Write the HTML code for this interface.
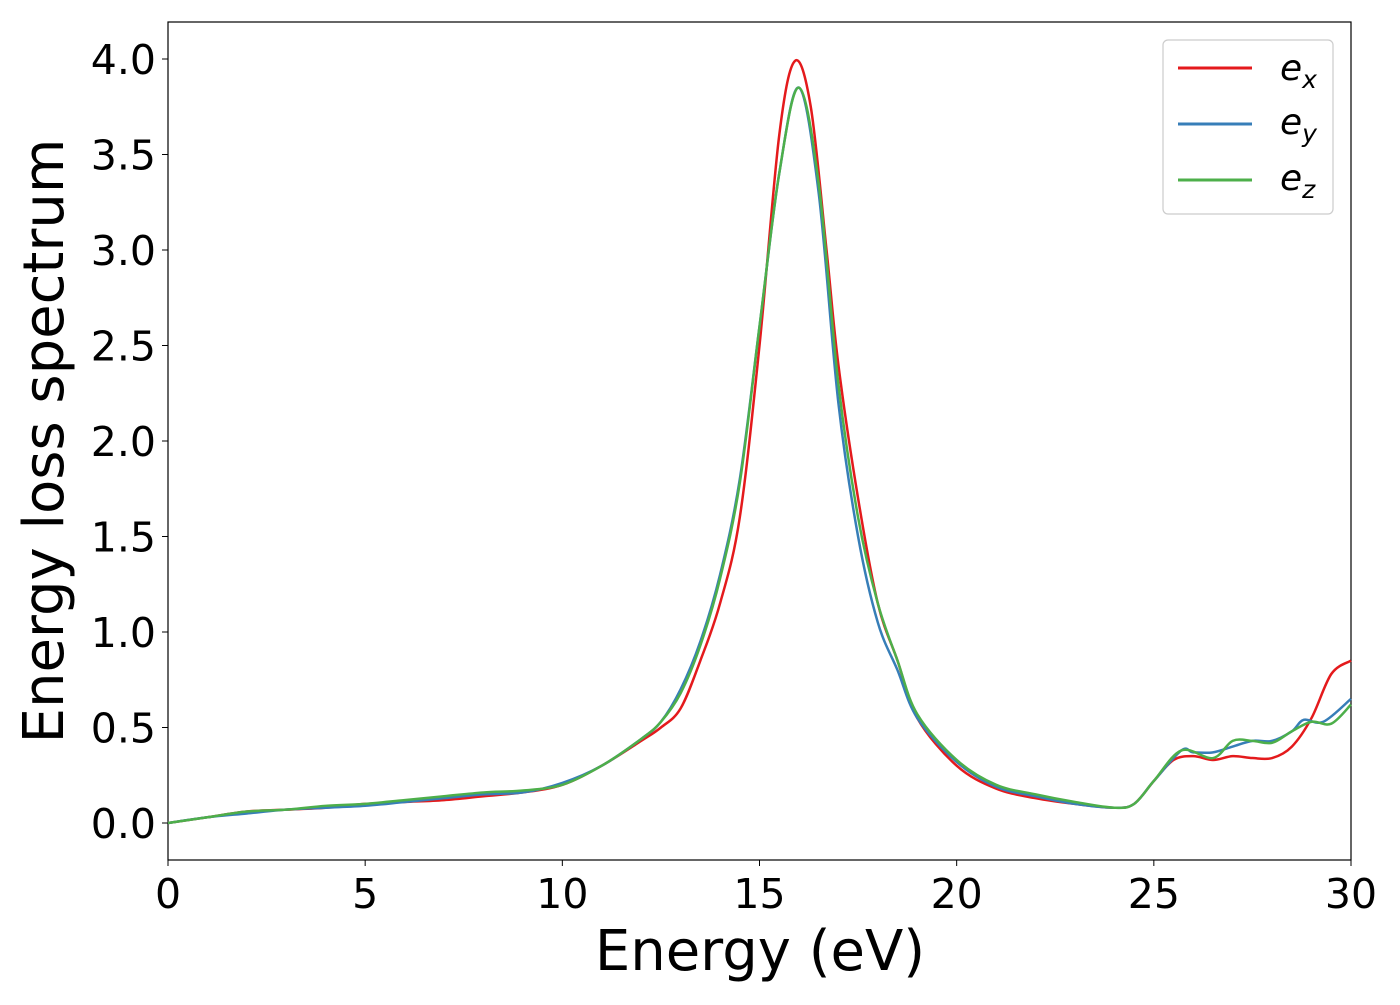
<!DOCTYPE html>
<html><head><meta charset="utf-8"><style>
body{margin:0;background:#fff;}
text{font-family:"DejaVu Sans","Liberation Sans",sans-serif;}
</style></head><body>
<svg id="chart" width="1400" height="1000">
<rect x="168" y="22" width="1183" height="838" fill="none" stroke="#000" stroke-width="1.2"/>
<g id="ticks"></g>
<g id="series"></g>
<text x="760" y="970" font-size="56" text-anchor="middle">Energy (eV)</text>
<text transform="translate(63,441) rotate(-90)" font-size="56" text-anchor="middle">Energy loss spectrum</text>
<g>
<rect x="1163" y="40" width="170" height="174" rx="5" fill="#fff" stroke="#ccc" stroke-width="1.2"/>
<line x1="1178" y1="68" x2="1252" y2="68" stroke="#e41a1c" stroke-width="3"/>
<text x="1280" y="80" font-size="36" font-style="italic">e<tspan font-size="25" dy="8">x</tspan></text>
<line x1="1178" y1="124" x2="1252" y2="124" stroke="#377eb8" stroke-width="3"/>
<text x="1280" y="134" font-size="36" font-style="italic">e<tspan font-size="25" dy="8">y</tspan></text>
<line x1="1178" y1="180" x2="1252" y2="180" stroke="#4daf4a" stroke-width="3"/>
<text x="1280" y="190" font-size="36" font-style="italic">e<tspan font-size="25" dy="8">z</tspan></text>
</g>
</svg>
<script>
const xTicks=[0,5,10,15,20,25,30];
const yTicks=["0.0","0.5","1.0","1.5","2.0","2.5","3.0","3.5","4.0"];
const exX=[0,1,2,3,4,5,6,7,8,9,10,11,12,12.5,13,13.5,14,14.5,15,15.5,15.9,16.3,16.7,17,17.5,18,18.5,19,20,21,22,23,24,24.5,25,25.5,26,26.5,27,27.5,28,28.5,29,29.5,30];
const exY=[0,0.03,0.06,0.07,0.08,0.1,0.11,0.12,0.14,0.16,0.2,0.3,0.43,0.5,0.6,0.85,1.15,1.6,2.5,3.6,3.99,3.75,3.0,2.4,1.7,1.15,0.85,0.55,0.3,0.18,0.13,0.1,0.08,0.1,0.22,0.33,0.35,0.33,0.35,0.34,0.34,0.4,0.55,0.78,0.85];
const eyX=[0,1,2,3,4,5,6,7,8,9,10,11,12,12.5,13,13.5,14,14.5,15,15.5,16,16.5,17,17.5,18,18.5,19,20,21,22,23,24,24.5,25,25.7,26,26.5,27,27.5,28,28.5,28.8,29.3,30];
const eyY=[0,0.03,0.05,0.07,0.08,0.09,0.11,0.13,0.15,0.16,0.21,0.3,0.44,0.53,0.7,0.95,1.3,1.8,2.6,3.4,3.85,3.3,2.2,1.5,1.05,0.8,0.55,0.32,0.19,0.14,0.1,0.08,0.1,0.22,0.38,0.37,0.37,0.4,0.43,0.43,0.48,0.54,0.53,0.65];
const ezX=[0,1,2,3,4,5,6,7,8,9,10,11,12,12.5,13,13.5,14,14.5,15,15.5,16,16.5,17,17.5,18,18.5,19,20,21,22,23,24,24.5,25,25.7,26.5,27,27.5,28,28.5,29,29.5,30];
const ezY=[0,0.03,0.06,0.07,0.09,0.1,0.12,0.14,0.16,0.17,0.2,0.3,0.44,0.53,0.68,0.93,1.28,1.78,2.6,3.4,3.85,3.35,2.3,1.6,1.15,0.85,0.57,0.33,0.2,0.15,0.11,0.08,0.1,0.22,0.38,0.34,0.43,0.43,0.42,0.48,0.53,0.52,0.62];
const X=v=>168+v*(1183/30), Y=v=>823-v*191;
const NS="http://www.w3.org/2000/svg";
const tg=document.getElementById('ticks');
xTicks.forEach(t=>{
 const l=document.createElementNS(NS,'line');l.setAttribute('x1',X(t));l.setAttribute('x2',X(t));l.setAttribute('y1',860);l.setAttribute('y2',866);l.setAttribute('stroke','#000');
 
 tg.appendChild(l);
 const s=document.createElementNS(NS,'text');s.setAttribute('x',X(t));s.setAttribute('y',908);s.setAttribute('font-size','41');s.setAttribute('text-anchor','middle');s.textContent=t;
 
 tg.appendChild(s);
});
yTicks.forEach(t=>{
 const v=parseFloat(t);
 const l=document.createElementNS(NS,'line');l.setAttribute('x1',162);l.setAttribute('x2',168);l.setAttribute('y1',Y(v));l.setAttribute('y2',Y(v));l.setAttribute('stroke','#000');
 
 tg.appendChild(l);
 const s=document.createElementNS(NS,'text');s.setAttribute('x',156);s.setAttribute('y',Y(v)+15);s.setAttribute('font-size','41');s.setAttribute('text-anchor','end');s.textContent=t;
 
 tg.appendChild(s);
});
function smooth(xs,ys){
 const p=xs.map((x,i)=>[X(x),Y(ys[i])]);
 let d='M'+p[0][0]+','+p[0][1];
 for(let i=0;i<p.length-1;i++){
  const p0=p[i-1]||p[i],p1=p[i],p2=p[i+1],p3=p[i+2]||p2;
  const c1=[p1[0]+(p2[0]-p0[0])/6,p1[1]+(p2[1]-p0[1])/6];
  const c2=[p2[0]-(p3[0]-p1[0])/6,p2[1]-(p3[1]-p1[1])/6];
  d+=`C${c1[0]},${c1[1]} ${c2[0]},${c2[1]} ${p2[0]},${p2[1]}`;
 }
 return d;
}
const sg=document.getElementById('series');
[[exX,exY,'#e41a1c','series-ex'],[eyX,eyY,'#377eb8','series-ey'],[ezX,ezY,'#4daf4a','series-ez']].forEach(s=>{
 const p=document.createElementNS(NS,'path');p.setAttribute('d',smooth(s[0],s[1]));p.setAttribute('fill','none');p.setAttribute('stroke',s[2]);p.setAttribute('stroke-width','2.5');
 
 sg.appendChild(p);
});
</script>
</body></html>
